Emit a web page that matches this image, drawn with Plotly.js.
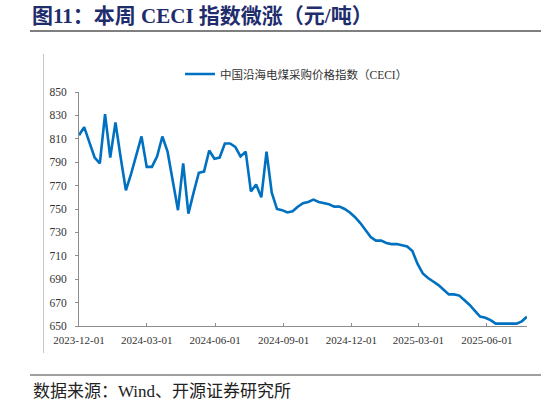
<!DOCTYPE html>
<html>
<head>
<meta charset="utf-8">
<script src="https://cdn.plot.ly/plotly-3.0.1.min.js"></script>
<style>
  html, body { margin: 0; padding: 0; background: #fff; }
  #chart { width: 546px; height: 405px; }
</style>
</head>
<body>
<div id="chart"></div>
<script>
// weekly CECI, first reading 2023-12-01 (Friday), one per week
const firstWeek = "2023-12-01";
const ceci = [
  813, 820, 807, 794, 789, 831, 794, 824, 794, 766,
  780, 796, 812, 786, 786, 795, 812, 799, 775, 749,
  789, 746, 764, 781, 782, 800, 793, 794, 806, 806,
  803, 795, 799, 765, 771, 760, 799, 764, 750, 749,
  747, 748, 752, 755, 756, 758, 756, 755, 754, 752,
  752, 750, 747, 743, 738, 732, 726, 723, 723, 721,
  720, 720, 719, 718, 714, 703, 695, 691, 688, 685,
  681, 677, 677, 676, 672, 668, 663, 658, 657, 655,
  652, 652, 652, 652, 652, 654, 658,
];
const tickDates = ["2023-12-01", "2024-03-01", "2024-06-01", "2024-09-01", "2024-12-01", "2025-03-01", "2025-06-01"];
const yTicks = [650, 670, 690, 710, 730, 750, 770, 790, 810, 830, 850];

const weeks = ceci.map((_, i) => {
  const d = new Date(Date.parse(firstWeek) + i * 7 * 864e5);
  return d.toISOString().slice(0, 10);
});

const W = 546, H = 405;
const M = { l: 79, r: 19, t: 92, b: 79 };
// pixel -> paper coords, for the furniture around the plot
const px = (x) => (x - M.l) / (W - M.l - M.r);
const py = (y) => (H - M.b - y) / (H - M.t - M.b);

const serif = "Liberation Serif, Times New Roman, Noto Sans CJK SC, serif";
const navy = "#1f2d6d", blue = "#0070c0", axisGrey = "#8c8c8c", rule = "#7f7f7f";

Plotly.newPlot(
  "chart",
  [
    {
      x: weeks,
      y: ceci,
      type: "scatter",
      mode: "lines",
      name: "中国沿海电煤采购价格指数（CECI）",
      line: { color: blue, width: 2.6 },
    },
  ],
  {
    width: W,
    height: H,
    margin: M,
    paper_bgcolor: "#fff",
    plot_bgcolor: "#fff",
    font: { family: serif, size: 11, color: "#333" },
    title: {
      text: "<b>图11：本周 CECI 指数微涨（元/吨）</b>",
      font: { family: serif, size: 21, color: navy },
      xref: "container", yref: "container",
      x: 32 / W, xanchor: "left",
      y: 1 - 16 / H, yanchor: "middle",
    },
    showlegend: true,
    legend: {
      orientation: "h",
      x: px(180), xanchor: "left",
      y: py(74), yanchor: "middle",
      font: { family: serif, size: 11.5, color: "#333" },
      bgcolor: "rgba(0,0,0,0)",
    },
    xaxis: {
      type: "date",
      range: [weeks[0], weeks[weeks.length - 1]],
      tickvals: tickDates,
      ticktext: tickDates,
      showgrid: false,
      zeroline: false,
      showline: true,
      linecolor: axisGrey,
      linewidth: 1,
      ticks: "inside",
      ticklen: 3,
      tickcolor: axisGrey,
      ticklabelstandoff: 4,
      tickfont: { family: serif, size: 11, color: "#333" },
    },
    yaxis: {
      range: [650, 850],
      tickvals: yTicks,
      showgrid: false,
      zeroline: false,
      showline: true,
      linecolor: axisGrey,
      linewidth: 1,
      ticks: "outside",
      ticklen: 3,
      tickcolor: axisGrey,
      ticklabelstandoff: 6,
      tickfont: { family: serif, size: 11.5, color: "#333" },
    },
    shapes: [
      { type: "line", xref: "paper", yref: "paper", x0: px(30), x1: px(541), y0: py(31), y1: py(31), line: { color: rule, width: 2 } },
      { type: "line", xref: "paper", yref: "paper", x0: px(30), x1: px(541), y0: py(375), y1: py(375), line: { color: rule, width: 1.5 } },
      { type: "line", xref: "paper", yref: "paper", x0: px(43.5), x1: px(43.5), y0: py(54), y1: py(353), line: { color: "#c8c8c8", width: 1 } },
    ],
    annotations: [
      {
        text: "数据来源：Wind、开源证券研究所",
        xref: "paper", yref: "paper",
        x: px(31), y: py(391),
        xanchor: "left", yanchor: "middle",
        showarrow: false,
        font: { family: serif, size: 17, color: "#222" },
      },
    ],
  },
  { displayModeBar: false, responsive: false, staticPlot: true }
);
</script>
</body>
</html>
